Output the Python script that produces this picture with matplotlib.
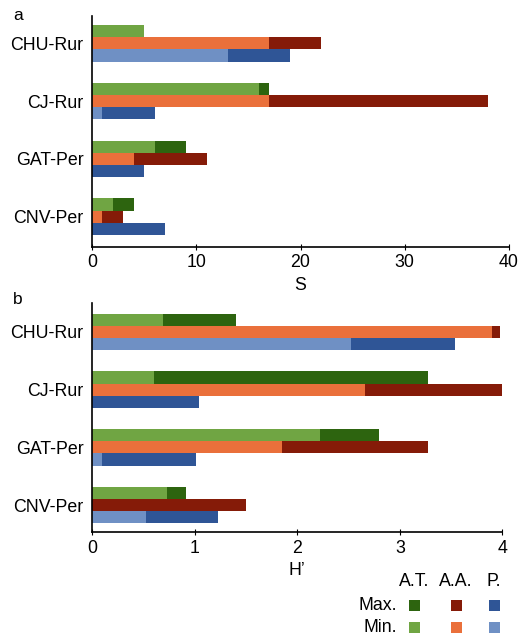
import matplotlib
matplotlib.use("Agg")
import matplotlib.pyplot as plt
from matplotlib.patches import Rectangle

plt.rcParams['font.family'] = ['Liberation Sans', 'DejaVu Sans']

sites = ["CHU-Rur", "CJ-Rur", "GAT-Per", "CNV-Per"]
groups = ["A.T.", "A.A.", "P."]

# Panel a: richness S
s_at_max = [5, 17, 9, 4]
s_at_min = [5, 16, 6, 2]
s_aa_max = [22, 38, 11, 3]
s_aa_min = [17, 17, 4, 1]
s_p_max = [19, 6, 5, 7]
s_p_min = [13, 1, 0, 0]

# Panel b: diversity H'
h_at_max = [1.40, 3.27, 2.80, 0.92]
h_at_min = [0.69, 0.60, 2.22, 0.73]
h_aa_max = [3.98, 4.00, 3.27, 1.50]
h_aa_min = [3.90, 2.66, 1.85, 0.0]
h_p_max = [3.54, 1.04, 1.01, 1.23]
h_p_min = [2.52, 0.0, 0.10, 0.53]

max_colors = ["#2d640f", "#851b08", "#2f5596"]
min_colors = ["#70a543", "#ea703b", "#6f90c4"]

W, H = 524, 635
fig = plt.figure(figsize=(W / 100, H / 100), dpi=100)

FS = 12.8
bar_h = 0.21
offsets = [-0.21, 0.0, 0.21]


def panel(rect, maxs, mins, xlim, xticks, xlabel, ylim, letter, letter_y):
    ax = fig.add_axes(rect)
    ypos = list(range(len(sites)))
    for k in range(3):
        yy = [y + offsets[k] for y in ypos]
        ax.barh(yy, maxs[k], height=bar_h, color=max_colors[k], linewidth=0)
        ax.barh(yy, mins[k], height=bar_h, color=min_colors[k], linewidth=0)
    ax.set_xlim(*xlim)
    ax.set_ylim(*ylim)
    ax.set_xticks(xticks)
    ax.set_yticks(ypos)
    ax.set_yticklabels(sites, fontsize=FS)
    ax.tick_params(axis='y', length=0, pad=6)
    ax.tick_params(axis='x', direction='inout', length=5, labelsize=FS, pad=3)
    for s in ["top", "right"]:
        ax.spines[s].set_visible(False)
    ax.spines["left"].set_linewidth(1.2)
    ax.spines["bottom"].set_linewidth(1.2)
    ax.set_xlabel(xlabel, fontsize=FS, labelpad=4)
    fig.text(13 / W, 1 - letter_y / H, letter, fontsize=12.5, ha='left', va='center')
    return ax


axa = panel([92 / W, 1 - 246.7 / H, (509 - 92) / W, (246.7 - 15.7) / H],
            [s_at_max, s_aa_max, s_p_max], [s_at_min, s_aa_min, s_p_min],
            (0, 40), [0, 10, 20, 30, 40], "S", (3.52, -0.48), "a", 15)
axb = panel([92 / W, 1 - 532.3 / H, (502.5 - 92) / W, (532.3 - 303) / H],
            [h_at_max, h_aa_max, h_p_max], [h_at_min, h_aa_min, h_p_min],
            (0, 4), [0, 1, 2, 3, 4], "H\u2019", (3.47, -0.5), "b", 299)

# custom legend grid
col_x = [414, 456, 494]
row_y = {"Max.": 605, "Min.": 627}
for gx, g in zip(col_x, groups):
    fig.text(gx / W, 1 - 582 / H, g, fontsize=FS, ha='center', va='center')
sq = 11
for rlabel, colors in (("Max.", max_colors), ("Min.", min_colors)):
    yc = row_y[rlabel]
    fig.text(397 / W, 1 - yc / H, rlabel, fontsize=FS, ha='right', va='center')
    for gx, c in zip(col_x, colors):
        fig.add_artist(Rectangle(((gx - sq / 2) / W, 1 - (yc + sq / 2) / H), sq / W, sq / H,
                                 transform=fig.transFigure, facecolor=c, edgecolor='none'))

fig.savefig("out.png", dpi=100)
